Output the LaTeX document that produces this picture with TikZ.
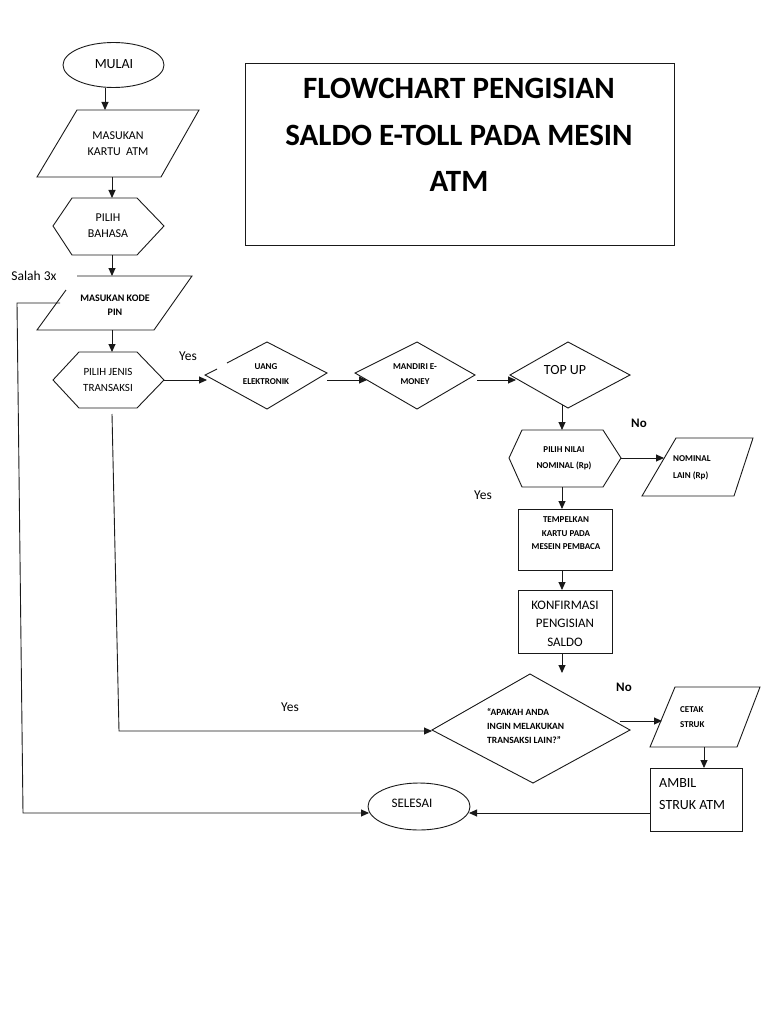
\documentclass[tikz,border=0pt]{standalone}
\usepackage{fontspec}
\setmainfont{Carlito}
\usetikzlibrary{arrows.meta,shapes.geometric}
\begin{document}
\begin{tikzpicture}[x=1pt,y=-1pt,
  shp/.style={draw=black!90,line width=0.9pt,line join=miter},
  arr/.style={draw=black!90,line width=0.9pt,-{Triangle[length=8pt,width=7pt]}},
  lbl/.style={inner sep=0pt,align=center,text=black},
  f/.style 2 args={font=\fontsize{#1}{#2}\selectfont},
  fb/.style 2 args={font=\bfseries\fontsize{#1}{#2}\selectfont}]
\useasboundingbox (0,0) rectangle (768,1024);
\fill[white] (0,0) rectangle (768,1024);

% title
\draw[shp] (245,63) rectangle (674,245);
\node[lbl,fb={31}{46.5}] (title) at (459,135) {FLOWCHART PENGISIAN\\SALDO E-TOLL PADA MESIN\\ATM};

% mulai
\node[shp,ellipse,minimum width=101pt,minimum height=45pt,inner sep=0pt] (mulai) at (113.5,65) {};
\node[lbl,f={14}{16}] (mulaiT) at (114,64) {MULAI};

% masukan kartu
\draw[shp] (77,110) -- (199,110) -- (161,177) -- (37,177) -- cycle;
\node[lbl,f={12}{16}] (kartu) at (118,144) {MASUKAN\\KARTU~~ATM};
\coordinate (kartuT) at (105,110);
\coordinate (kartuB) at (112,177);

% pilih bahasa
\draw[shp] (72,198) -- (137,198) -- (164,226) -- (137,255) -- (72,255) -- (53,226) -- cycle;
\node[lbl,f={12}{16}] (bahasa) at (108,226) {PILIH\\BAHASA};
\coordinate (bahasaT) at (112,198);
\coordinate (bahasaB) at (112,255);

% masukan kode pin
\draw[shp] (77,276) -- (192,276) -- (154,330) -- (37,330) -- (66,290);
\node[lbl,fb={10}{14}] (pin) at (115,305) {MASUKAN KODE\\PIN};
\coordinate (pinT) at (112,276);
\coordinate (pinB) at (112,330);
\coordinate (pinL) at (60,303);

% pilih jenis transaksi
\draw[shp] (79,352) -- (137,352) -- (164,380) -- (137,408) -- (79,408) -- (53,380) -- cycle;
\node[lbl,f={11}{16}] (jenis) at (108,380) {PILIH JENIS\\TRANSAKSI};
\coordinate (jenisT) at (112,352);
\coordinate (jenisR) at (164,380);
\coordinate (jenisB) at (112,414);

% uang elektronik
\draw[shp] (227,363) -- (267,342) -- (327,373) -- (267,409) -- (205,375) -- (217,369);
\node[lbl,fb={9}{15}] (uang) at (266,374.5) {UANG\\ELEKTRONIK};
\coordinate (uangL) at (207,380);
\coordinate (uangR) at (327,380);

% mandiri e-money
\draw[shp] (355,373) -- (417,342) -- (475,375) -- (417,409) -- cycle;
\node[lbl,fb={9}{15}] (mandiri) at (415,374.5) {MANDIRI E-\\MONEY};
\coordinate (mandL) at (367,380);
\coordinate (mandR) at (477,380);

% top up
\draw[shp] (510,375) -- (568,342) -- (630,375) -- (568,408) -- cycle;
\node[lbl,f={14}{16}] (topup) at (565,370) {TOP UP};
\coordinate (topL) at (516,380);
\coordinate (topB) at (562,405);

% pilih nilai nominal
\draw[shp] (522,430) -- (603,430) -- (621,458) -- (603,487) -- (522,487) -- (509,458) -- cycle;
\node[lbl,fb={9}{16}] (nilai) at (564,458) {PILIH NILAI\\NOMINAL (Rp)};
\coordinate (nilaiT) at (562,430);
\coordinate (nilaiR) at (621,458);
\coordinate (nilaiB) at (562,487);

% nominal lain
\draw[shp] (676,438) -- (753,438) -- (734,496) -- (642,496) -- cycle;
\node[lbl,fb={9}{17},align=left,anchor=west] (nominal) at (673,468) {NOMINAL\\LAIN (Rp)};
\coordinate (nomL) at (664,458);

% tempelkan kartu
\draw[shp] (518,509) rectangle (612,570);
\node[lbl,fb={9}{13.5}] (tempel) at (566,533.5) {TEMPELKAN\\KARTU PADA\\MESEIN PEMBACA};
\coordinate (tempelT) at (562,509);
\coordinate (tempelB) at (562,570);

% konfirmasi
\draw[shp] (518,590) rectangle (612,653);
\node[lbl,f={13}{18.5}] (konf) at (565,623.5) {KONFIRMASI\\PENGISIAN\\SALDO};
\coordinate (konfT) at (562,590);
\coordinate (konfB) at (562,653);

% apakah
\draw[shp] (432,730) -- (530,674) -- (630,730) -- (533,783) -- cycle;
\node[lbl,fb={9.5}{14},align=left,anchor=west] (apakah) at (487,726) {“APAKAH ANDA\\INGIN MELAKUKAN\\TRANSAKSI LAIN?”};
\coordinate (apakTop) at (562,673);
\coordinate (apakL) at (432,731);
\coordinate (apakR) at (620,721);

% cetak struk
\draw[shp] (675,687) -- (760,687) -- (737,747) -- (650,747) -- cycle;
\node[lbl,fb={9}{15},align=left,anchor=west] (cetak) at (680,717.5) {CETAK\\STRUK};
\coordinate (cetakL) at (662,721);
\coordinate (cetakB) at (704,747);

% ambil struk atm
\draw[shp] (650,768) rectangle (742,831);
\node[lbl,f={14}{22},align=left,anchor=west] (ambil) at (659,794) {AMBIL\\STRUK ATM};
\coordinate (ambilT) at (704,768);
\coordinate (ambilL) at (650,813);

% selesai
\node[shp,ellipse,minimum width=102pt,minimum height=47pt,inner sep=0pt] (selesai) at (419,806.5) {};
\node[lbl,f={13}{16}] (selesaiT) at (412,803) {SELESAI};
\coordinate (selR) at (469,813);
\coordinate (selL) at (369,813);

% loop helper points
\coordinate (yesC) at (119,731);
\coordinate (salA) at (17,303);
\coordinate (salB) at (23,813);

% connectors
\draw[arr] (mulai.south -| kartuT) -- (kartuT);
\draw[arr] (kartuB) -- (bahasaT);
\draw[arr] (bahasaB) -- (pinT);
\draw[arr] (pinB) -- (jenisT);
\draw[arr] (jenisR) -- (uangL);
\draw[arr] (uangR) -- (mandL);
\draw[arr] (mandR) -- (topL);
\draw[arr] (topB) -- (nilaiT);
\draw[arr] (nilaiR) -- (nomL);
\draw[arr] (nilaiB) -- (tempelT);
\draw[arr] (tempelB) -- (konfT);
\draw[arr] (konfB) -- (apakTop);
\draw[arr] (apakR) -- (cetakL);
\draw[arr] (cetakB) -- (ambilT);
\draw[arr] (ambilL) -- (selR);
\draw[arr] (jenisB) -- (yesC) -- (apakL);
\draw[arr] (pinL) -- (salA) -- (salB) -- (selL);

% labels
\node[lbl,f={13.5}{16}] (salah) at (34,276) {Salah 3x};
\node[lbl,f={13.5}{16}] (yes1) at (188,356) {Yes};
\node[lbl,fb={13}{16}] (no1) at (639,423) {No};
\node[lbl,f={13.5}{16}] (yes2) at (483,495) {Yes};
\node[lbl,fb={13}{16}] (no2) at (624,687) {No};
\node[lbl,f={13.5}{16}] (yes3) at (290,707) {Yes};
\end{tikzpicture}
\end{document}
